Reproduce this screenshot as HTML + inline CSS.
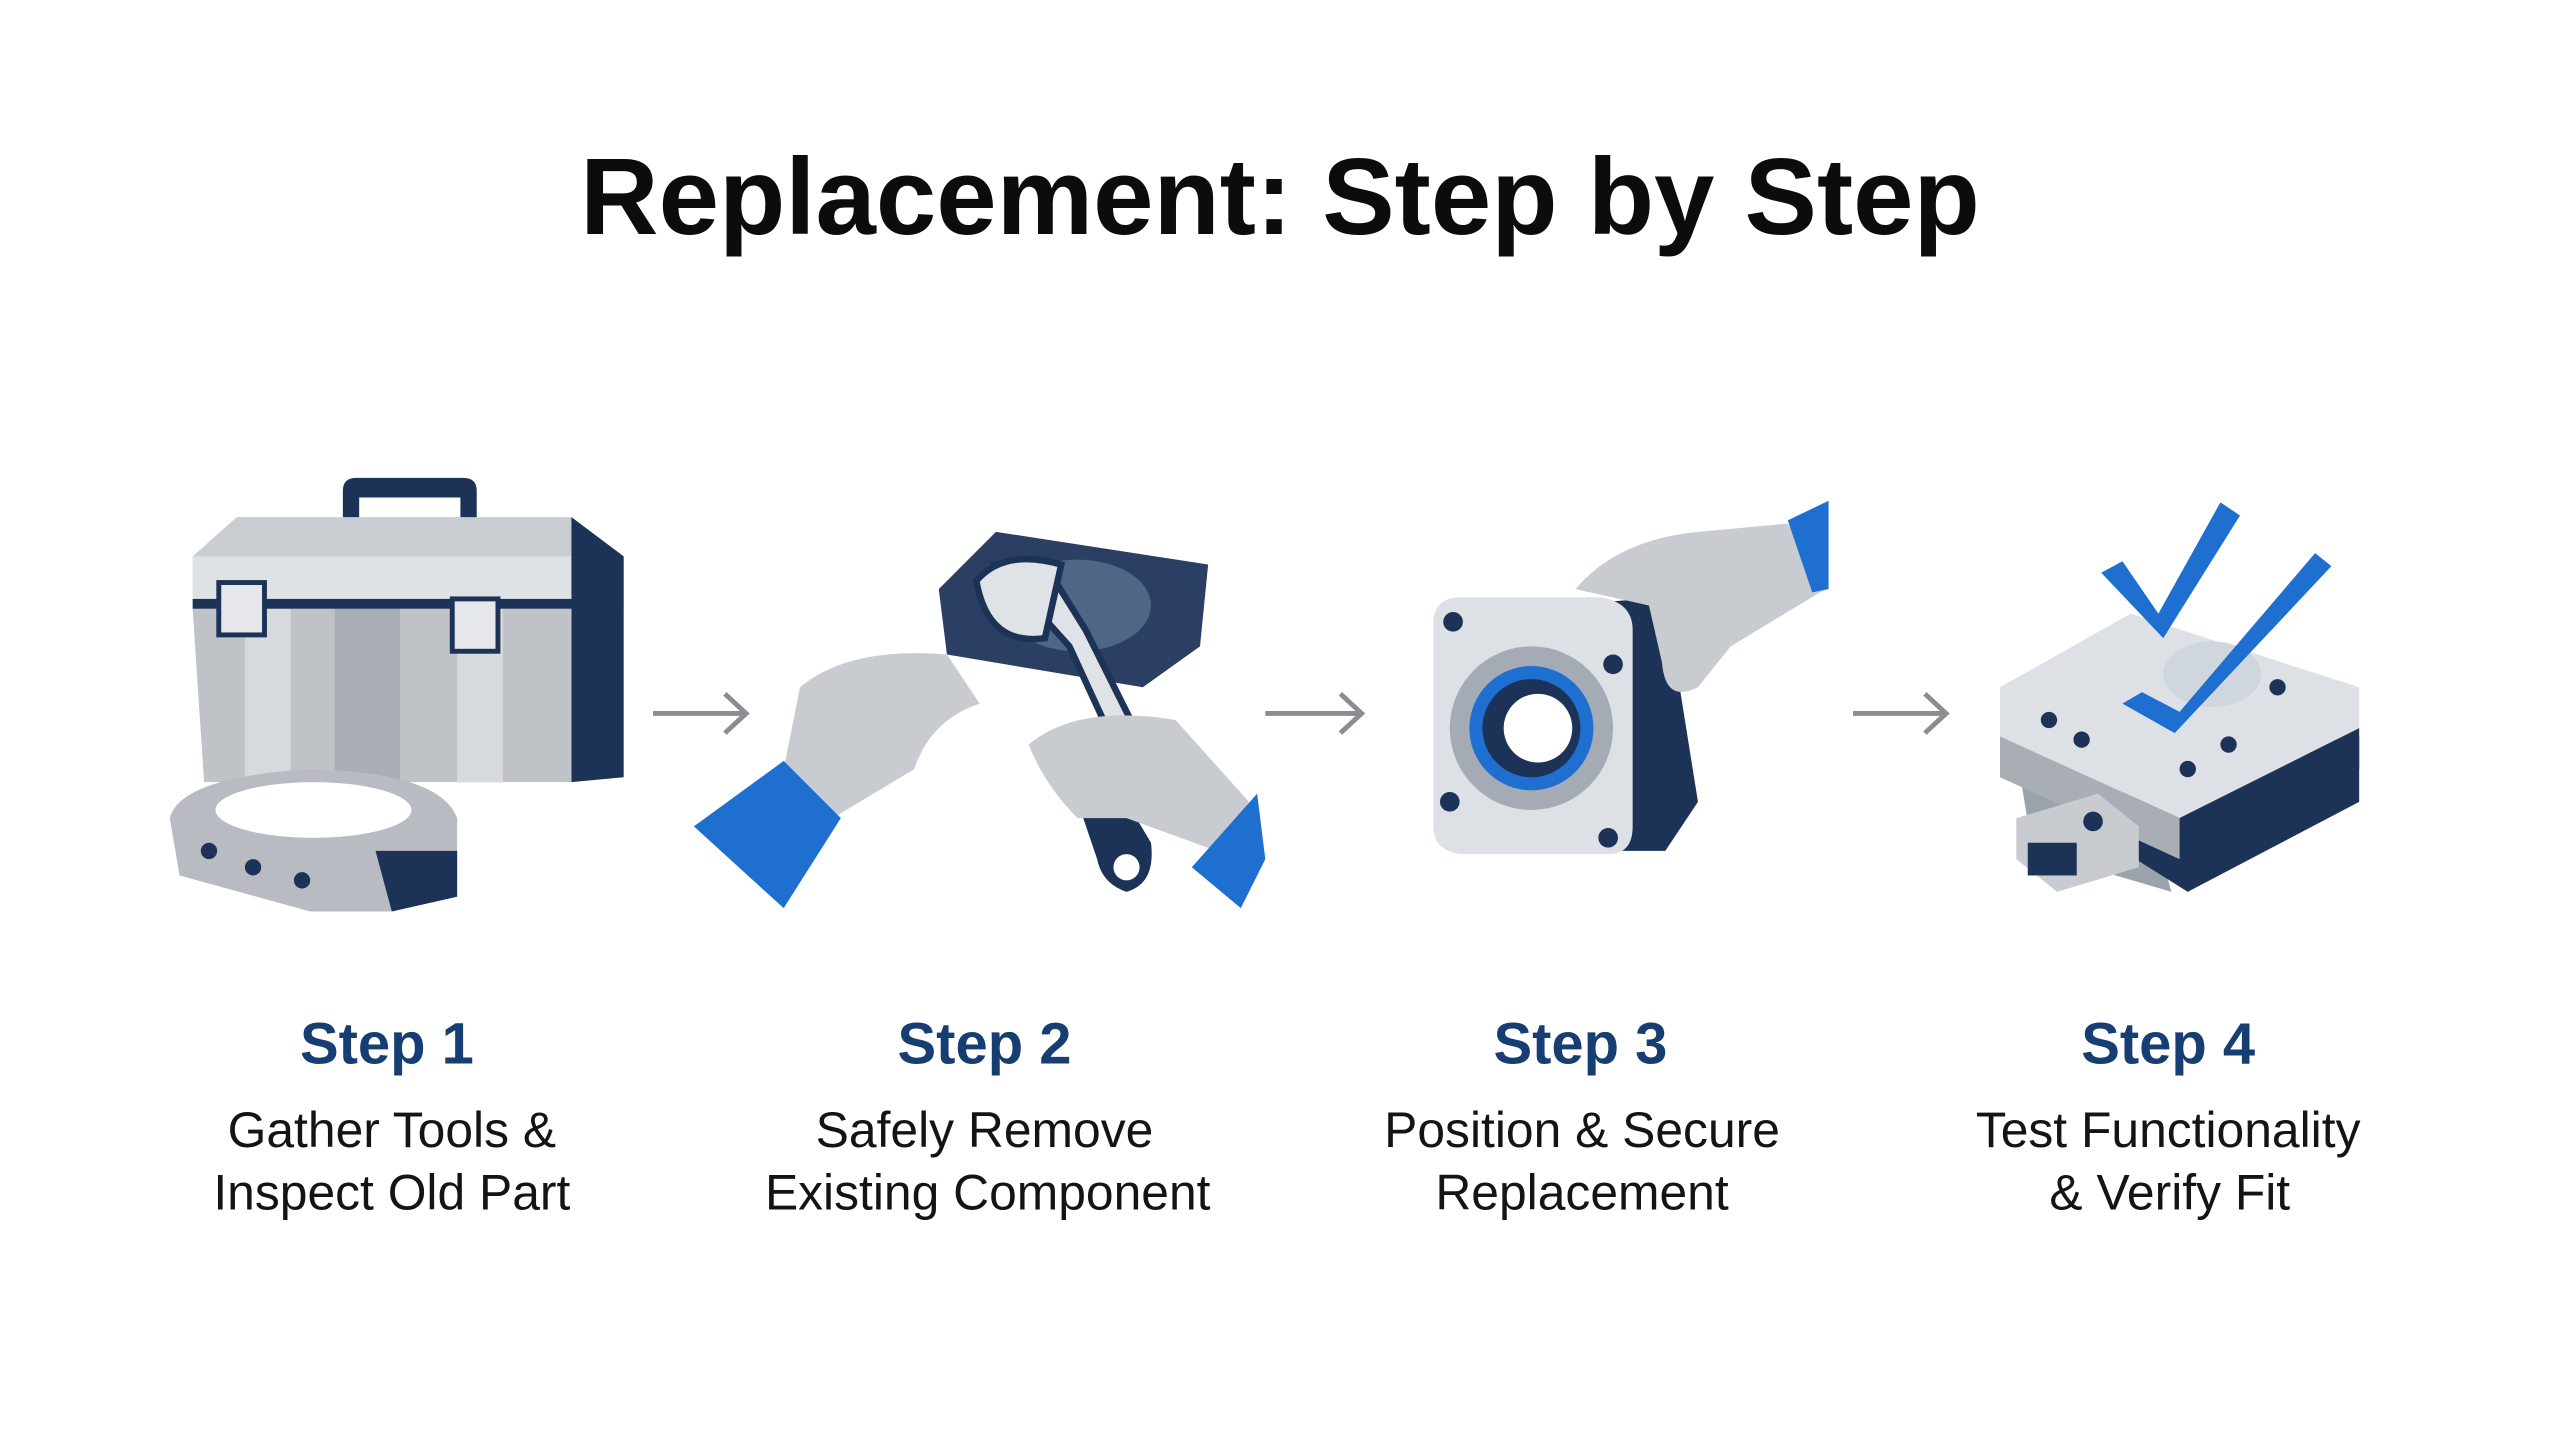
<!DOCTYPE html>
<html><head><meta charset="utf-8"><style>
html,body{margin:0;padding:0;background:#fff;width:2560px;height:1440px;overflow:hidden}
svg{display:block}
text{font-family:"Liberation Sans",sans-serif}
</style></head><body>
<svg width="2560" height="1440" viewBox="0 0 1568 880" preserveAspectRatio="none">
<rect width="1568" height="880" fill="#fff"/>
<text x="784" y="143" text-anchor="middle" font-size="66.5" font-weight="bold" fill="#0c0c0c">Replacement: Step by Step</text>

<!-- arrows -->
<g stroke="#8a8d91" stroke-width="3" fill="none">
<path d="M400 436 H456 M444 424 L457 436 L444 448"/>
<path d="M775 436 H833 M821 424 L834 436 L821 448"/>
<path d="M1135 436 H1191 M1179 424 L1192 436 L1179 448"/>
</g>

<!-- Step1 toolbox -->
<g>
<path d="M210 300 Q210 292 218 292 H284 Q292 292 292 300 V330 H282 V304 H220 V330 H210 Z" fill="#1c3357"/>
<path d="M118 340 L145 316 H350 L382 340 V370 L375 372 H118 Z" fill="#c9cdd2"/>
<path d="M118 340 H382 V372 H118 Z" fill="#dfe2e5"/>
<path d="M350 316 L382 340 V475 L350 478 Z" fill="#1c3357"/>
<path d="M118 372 H350 V478 H125 Z" fill="#bfc3c8"/>
<rect x="150" y="372" width="28" height="106" fill="#d7dadd"/>
<rect x="205" y="372" width="40" height="106" fill="#a9aeb4"/>
<rect x="280" y="372" width="28" height="106" fill="#d7dadd"/>
<rect x="118" y="366" width="262" height="6" fill="#1c3357"/>
<rect x="134" y="356" width="28" height="32" fill="#e5e7ea" stroke="#1c3357" stroke-width="3"/>
<rect x="277" y="366" width="28" height="32" fill="#e5e7ea" stroke="#1c3357" stroke-width="3"/>
<!-- ring -->
<path d="M104 500 Q110 475 190 470 Q270 472 280 500 V540 L240 557 H190 L110 535 Z" fill="#b8bcc2"/>
<ellipse cx="192" cy="495" rx="60" ry="17" fill="#fff"/>
<path d="M230 520 H280 V548 L240 557 Z" fill="#1c3357"/>
<circle cx="128" cy="520" r="5" fill="#1c3357"/><circle cx="155" cy="530" r="5" fill="#1c3357"/><circle cx="185" cy="538" r="5" fill="#1c3357"/>
</g>

<!-- Step2 wrench & hands -->
<g>
<path d="M575 360 L610 325 L740 345 L735 395 L700 420 L580 400 Z" fill="#2a3f63"/>
<ellipse cx="660" cy="370" rx="45" ry="28" fill="#4f6787"/>
<path d="M610 345 L655 395 L685 460 L700 455 L665 385 L640 345 Z" fill="#dfe3e7" stroke="#1c3357" stroke-width="4"/>
<path d="M598 355 Q615 335 650 345 L640 390 Q605 395 598 355 Z" fill="#dfe3e7" stroke="#1c3357" stroke-width="4"/>
<path d="M672 460 L705 515 Q708 540 690 545 Q675 540 672 525 L655 475 Z" fill="#1c3357"/>
<circle cx="690" cy="530" r="8" fill="#fff"/>
<path d="M480 470 L490 420 Q520 395 580 400 L600 430 Q570 440 560 470 L510 500 Z" fill="#c8ccd1"/>
<path d="M425 505 L480 465 L515 500 L480 555 Z" fill="#1e6fd0"/>
<path d="M630 455 Q660 430 720 440 L765 490 L745 520 L690 500 L660 500 Q640 480 630 455 Z" fill="#c8ccd1"/>
<path d="M730 530 L770 485 L775 525 L760 555 Z" fill="#1e6fd0"/>
</g>

<!-- Step3 flange + hand -->
<g>
<path d="M955 370 L1020 365 L1040 490 L1020 520 L990 520 Z" fill="#1c3357"/>
<path d="M878 378 Q880 365 895 365 H980 Q1000 368 1000 385 V505 Q1000 522 985 522 H895 Q878 520 878 505 Z" fill="#dde0e4"/>
<circle cx="938" cy="445" r="50" fill="#a4abb4"/>
<circle cx="938" cy="445" r="38" fill="#1e6fd0"/>
<circle cx="938" cy="445" r="30" fill="#1c3357"/>
<circle cx="942" cy="445" r="21" fill="#fff"/>
<g fill="#1c3357"><circle cx="890" cy="380" r="6"/><circle cx="988" cy="406" r="6"/><circle cx="888" cy="490" r="6"/><circle cx="985" cy="512" r="6"/></g>
<path d="M965 360 Q990 330 1040 325 L1095 320 L1118 360 L1060 395 L1040 420 Q1020 430 1018 405 L1010 370 Z" fill="#c8ccd1"/>
<path d="M1095 318 L1120 306 V360 L1110 362 Z" fill="#1e6fd0"/>
</g>

<!-- Step4 block + check -->
<g>
<path d="M1235 460 L1320 510 L1330 545 L1245 520 Z" fill="#9aa2ab"/>
<path d="M1300 470 L1445 450 V490 L1340 545 L1300 520 Z" fill="#1c3357"/>
<path d="M1225 420 L1305 375 L1445 420 V445 L1335 500 L1225 450 Z" fill="#dde0e4"/>
<path d="M1335 500 L1445 445 V470 L1335 525 Z" fill="#1c3357"/>
<path d="M1225 450 L1335 500 V525 L1225 475 Z" fill="#a9aeb4"/>
<ellipse cx="1355" cy="412" rx="30" ry="20" fill="#cfd6dd"/>
<g fill="#1c3357"><circle cx="1255" cy="440" r="5"/><circle cx="1275" cy="452" r="5"/><circle cx="1395" cy="420" r="5"/><circle cx="1365" cy="455" r="5"/><circle cx="1340" cy="470" r="5"/></g>
<path d="M1235 500 L1285 485 L1310 505 V530 L1260 545 L1235 525 Z" fill="#c8ccd1"/>
<rect x="1242" y="515" width="30" height="20" fill="#1c3357"/>
<circle cx="1282" cy="502" r="6" fill="#1c3357"/>
<path d="M1287 350 L1300 343 L1322 375 L1360 307 L1372 315 L1325 390 Z" fill="#1e6fd0"/>
<path d="M1300 430 L1312 423 L1335 435 L1418 338 L1428 346 L1332 448 Z" fill="#1e6fd0"/>
</g>

<!-- labels -->
<g text-anchor="middle">
<g font-size="35.5" font-weight="bold" fill="#173e73">
<text x="237" y="650">Step 1</text><text x="603" y="650">Step 2</text><text x="968" y="650">Step 3</text><text x="1328" y="650">Step 4</text>
</g>
<g font-size="30.5" fill="#141414">
<text x="240" y="701">Gather Tools &amp;</text><text x="240" y="739">Inspect Old Part</text>
<text x="603" y="701">Safely Remove</text><text x="605" y="739">Existing Component</text>
<text x="969" y="701">Position &amp; Secure</text><text x="969" y="739">Replacement</text>
<text x="1328" y="701">Test Functionality</text><text x="1329" y="739">&amp; Verify Fit</text>
</g>
</g>
</svg>
</body></html>
